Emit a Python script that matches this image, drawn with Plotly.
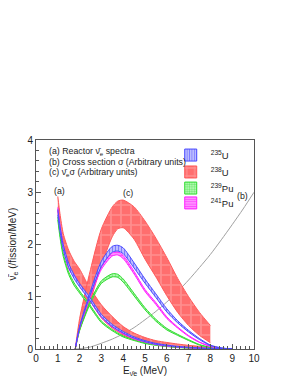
import plotly.graph_objects as go

# ---------------- data ----------------
# (a) reactor antineutrino spectra  [/fission/MeV]
XA = [1.0, 1.1, 1.25, 1.5, 1.75, 2.0, 2.4, 3.0, 3.5, 4.0, 4.5, 5.0, 5.5, 6.0, 6.5, 7.0, 7.5, 8.0, 8.5, 9.0]
U235_a = [2.62, 2.3, 1.95, 1.6, 1.38, 1.22, 1.0, 0.64, 0.45, 0.32, 0.22, 0.15, 0.10, 0.07, 0.045, 0.03, 0.018, 0.01, 0.005, 0.002]
U235_a_err = [0.05, 0.05, 0.045, 0.04, 0.035, 0.03, 0.03, 0.025, 0.02, 0.015, 0.012, 0.01, 0.008, 0.006, 0.005, 0.004, 0.003, 0.002, 0.001, 0.001]
PU241_a = [2.68, 2.34, 1.96, 1.56, 1.4, 1.22, 0.99, 0.62, 0.43, 0.30, 0.20, 0.14, 0.09, 0.06, 0.04, 0.025, 0.015, 0.008, 0.004, 0.001]
PU241_a_err = [0.03, 0.03, 0.03, 0.025, 0.025, 0.02, 0.02, 0.015, 0.012, 0.01, 0.008, 0.006, 0.005, 0.004, 0.003, 0.002, 0.002, 0.001, 0.001, 0.0]
PU239_a = [2.5, 2.17, 1.8, 1.45, 1.24, 1.09, 0.87, 0.52, 0.36, 0.24, 0.17, 0.11, 0.075, 0.05, 0.03, 0.02, 0.01, 0.005, 0.002, 0.0]
PU239_a_err = [0.03, 0.03, 0.03, 0.025, 0.025, 0.02, 0.02, 0.015, 0.012, 0.01, 0.008, 0.006, 0.005, 0.004, 0.003, 0.002, 0.002, 0.001, 0.001, 0.0]
XA8 = [1.0, 1.1, 1.25, 1.5, 1.75, 2.0, 2.4, 3.0, 3.5, 4.0, 4.5, 5.0, 5.5, 6.0, 6.5, 7.0, 7.5, 8.0]
U238_a = [2.78, 2.45, 2.08, 1.76, 1.55, 1.4, 1.1, 0.72, 0.51, 0.35, 0.24, 0.17, 0.12, 0.09, 0.065, 0.045, 0.03, 0.015]
U238_a_err = [0.14, 0.14, 0.13, 0.13, 0.13, 0.13, 0.12, 0.125, 0.11, 0.08, 0.065, 0.05, 0.04, 0.035, 0.03, 0.025, 0.02, 0.015]

# (c) spectrum x cross section (arbitrary units)
XC = [1.8, 2.0, 2.5, 3.0, 3.5, 3.75, 4.0, 4.5, 5.0, 5.5, 6.0, 6.5, 7.0, 7.5, 8.0, 8.5, 9.0]
U235_c = [0, 0.42, 1.08, 1.63, 1.91, 1.93, 1.88, 1.6, 1.3, 1.02, 0.74, 0.52, 0.34, 0.19, 0.07, 0.02, 0.0]
U235_c_err = [0, 0.01, 0.03, 0.05, 0.055, 0.055, 0.055, 0.05, 0.04, 0.035, 0.03, 0.02, 0.015, 0.01, 0.005, 0.002, 0]
PU241_c = [0, 0.41, 1.03, 1.55, 1.81, 1.83, 1.76, 1.46, 1.12, 0.87, 0.6, 0.41, 0.25, 0.13, 0.05, 0.01, 0]
PU241_c_err = [0, 0.01, 0.02, 0.025, 0.03, 0.03, 0.03, 0.025, 0.02, 0.018, 0.015, 0.01, 0.008, 0.005, 0.003, 0.001, 0]
PU239_c = [0, 0.36, 0.9, 1.28, 1.41, 1.4, 1.31, 1.04, 0.77, 0.55, 0.38, 0.27, 0.17, 0.08, 0.03, 0.01, 0]
PU239_c_err = [0, 0.01, 0.02, 0.025, 0.03, 0.03, 0.03, 0.025, 0.02, 0.018, 0.015, 0.01, 0.008, 0.005, 0.003, 0.001, 0]
XC8 = [1.8, 2.0, 2.5, 3.0, 3.5, 3.75, 4.0, 4.5, 5.0, 5.5, 6.0, 6.5, 7.0, 7.5, 8.0]
U238_c_hi = [0, 0.58, 1.52, 2.3, 2.72, 2.83, 2.85, 2.72, 2.45, 2.12, 1.75, 1.35, 1.0, 0.7, 0.45]
U238_c_lo = [0, 0.36, 0.94, 1.6, 2.15, 2.3, 2.32, 2.1, 1.72, 1.38, 1.02, 0.7, 0.45, 0.26, 0.12]

# (b) IBD cross section (arbitrary units)
XB = [1.8, 2.0, 2.5, 3.0, 3.5, 4.0, 4.5, 5.0, 5.5, 6.0, 6.5, 7.0, 7.5, 8.0, 8.5, 9.0, 9.5, 10.0]
SIGMA = [0, 0.005, 0.04, 0.11, 0.19, 0.29, 0.41, 0.56, 0.72, 0.9, 1.1, 1.32, 1.56, 1.81, 2.09, 2.38, 2.68, 3.0]

ISOTOPES = ["<sup>235</sup>U", "<sup>238</sup>U", "<sup>239</sup>Pu", "<sup>241</sup>Pu"]

# ---------------- styles ----------------
STY = {
    ISOTOPES[0]: dict(line="#4a4aff", pat=dict(shape="|", fgcolor="#3030ff", bgcolor="#c8c8ff", size=3, solidity=0.45)),
    ISOTOPES[1]: dict(line="#ff5a5a", pat=dict(shape="+", fgcolor="#ffb0b0", bgcolor="#ff6e6e", size=10, solidity=0.3)),
    ISOTOPES[2]: dict(line="#33dd33", pat=dict(shape=".", fgcolor="#22cc22", bgcolor="#c0ffc0", size=3, solidity=0.5)),
    ISOTOPES[3]: dict(line="#ff22ff", pat=dict(shape="-", fgcolor="#ff00ff", bgcolor="#ff9cff", size=3, solidity=0.45)),
}

fig = go.Figure()


def band(x, lo, hi, name):
    s = STY[name]
    ln = dict(color=s["line"], width=1, shape="spline", smoothing=0.7)
    fig.add_trace(go.Scatter(x=x, y=lo, mode="lines", line=ln, showlegend=False, hoverinfo="skip"))
    fig.add_trace(go.Scatter(x=x, y=hi, mode="lines", line=ln, fill="tonexty",
                             fillpattern=s["pat"], showlegend=False, hoverinfo="skip"))


def pm(c, e, sign):
    return [ci + sign * ei for ci, ei in zip(c, e)]


# cross section curve (b)
fig.add_trace(go.Scatter(x=XB, y=SIGMA, mode="lines", showlegend=False, hoverinfo="skip",
                         line=dict(color="#a0a0a0", width=1, shape="spline", smoothing=0.7)))

# U238 first (underneath)
band(XA8, pm(U238_a, U238_a_err, -1), pm(U238_a, U238_a_err, 1), ISOTOPES[1])
band(XC8, U238_c_lo, U238_c_hi, ISOTOPES[1])
band(XA, pm(PU239_a, PU239_a_err, -1), pm(PU239_a, PU239_a_err, 1), ISOTOPES[2])
band(XC, pm(PU239_c, PU239_c_err, -1), pm(PU239_c, PU239_c_err, 1), ISOTOPES[2])
band(XA, pm(PU241_a, PU241_a_err, -1), pm(PU241_a, PU241_a_err, 1), ISOTOPES[3])
band(XC, pm(PU241_c, PU241_c_err, -1), pm(PU241_c, PU241_c_err, 1), ISOTOPES[3])
band(XA, pm(U235_a, U235_a_err, -1), pm(U235_a, U235_a_err, 1), ISOTOPES[0])
band(XC, pm(U235_c, U235_c_err, -1), pm(U235_c, U235_c_err, 1), ISOTOPES[0])

FONT = "Liberation Sans, Arial, Helvetica, sans-serif"

# legend entries (small patterned boxes, like the reference), one legend per row
LEG_IDS = ["legend", "legend2", "legend3", "legend4"]
LEG_Y = [0.928, 0.847, 0.770, 0.699]
legend_layouts = {}
for i, name in enumerate(ISOTOPES):
    s = STY[name]
    fig.add_trace(go.Bar(x=[None], y=[None], name=name, legend=LEG_IDS[i], hoverinfo="skip",
                         marker=dict(color=s["pat"]["bgcolor"], pattern=s["pat"],
                                     line=dict(color=s["line"], width=1))))
    legend_layouts[LEG_IDS[i]] = dict(x=0.618, y=LEG_Y[i], xanchor="left", yanchor="middle",
                                      bgcolor="rgba(0,0,0,0)", itemwidth=30,
                                      font=dict(size=9.5, family=FONT, color="#222"))

AX = dict(showgrid=False, zeroline=False, showline=True, linecolor="#555", linewidth=1,
          mirror=True, ticks="inside", ticklen=5, tickcolor="#555", tickwidth=1,
          tickfont=dict(size=10, color="#222", family=FONT),
          minor=dict(ticks="inside", ticklen=3, tickcolor="#555", dtick=0.2, showgrid=False))

# page body has an 8px margin, so the figure is made 8px smaller and margins reduced
fig.update_layout(
    width=287, height=374,
    margin=dict(l=28, r=41, t=132, b=33),
    paper_bgcolor="white", plot_bgcolor="white",
    font=dict(family=FONT, size=10, color="#222"),
    xaxis=dict(range=[0, 10], dtick=1, **AX),
    yaxis=dict(range=[0, 4], dtick=1, **AX),
    showlegend=True,
    **legend_layouts,
)

ann = [
    dict(x=0.5, y=3.78, text="(a) Reactor ν̄<sub>e</sub> spectra", xanchor="left"),
    dict(x=0.5, y=3.57, text="(b) Cross section σ (Arbitrary units)", xanchor="left"),
    dict(x=0.5, y=3.37, text="(c) ν̄<sub>e</sub>σ (Arbitrary units)", xanchor="left"),
    dict(x=1.1, y=3.02, text="(a)", xanchor="center"),
    dict(x=4.24, y=2.99, text="(c)", xanchor="center"),
    dict(x=9.45, y=2.92, text="(b)", xanchor="center"),
]
for a in ann:
    fig.add_annotation(xref="x", yref="y", showarrow=False, yanchor="middle",
                       font=dict(size=8.8, family=FONT, color="#222"), **a)

fig.add_annotation(xref="paper", yref="paper", x=0.5, y=-0.105, showarrow=False,
                   text="E<sub>ν̄e</sub> (MeV)", font=dict(size=10, family=FONT, color="#222"),
                   xanchor="center", yanchor="middle")
fig.add_annotation(xref="paper", yref="paper", x=-0.11, y=0.5, showarrow=False, textangle=-90,
                   text="ν̄<sub>e</sub> (/fission/MeV)", font=dict(size=10, family=FONT, color="#222"),
                   xanchor="center", yanchor="middle")

fig.write_html("out.html")
